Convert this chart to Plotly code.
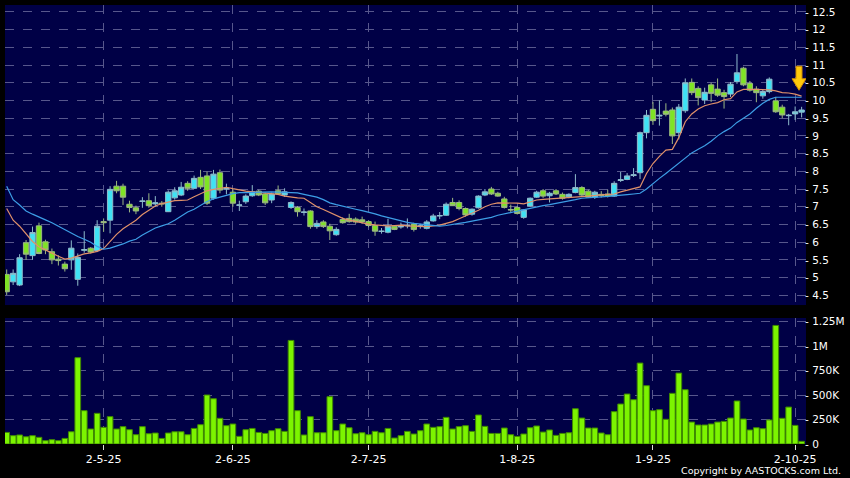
import plotly.graph_objects as go
from plotly.subplots import make_subplots

# daily candles (bar index 0 = first session shown)
opens = [5.09, 4.88, 4.79, 5.98, 5.62, 6.46, 6.01, 5.73, 5.52, 5.38,
         5.50, 4.95, 5.77, 5.83, 5.76, 6.58, 6.62, 7.58, 7.58, 7.07,
         6.97, 7.15, 7.17, 7.08, 7.10, 6.86, 7.25, 7.33, 7.66, 7.52,
         7.83, 7.87, 7.24, 7.96, 7.50, 7.41, 7.04, 7.14, 7.31, 7.44,
         7.36, 7.19, 7.45, 7.33, 6.98, 6.98, 6.84, 6.88, 6.44, 6.57,
         6.45, 6.21, 6.64, 6.67, 6.65, 6.63, 6.58, 6.47, 6.30, 6.28,
         6.45, 6.43, 6.46, 6.51, 6.44, 6.39, 6.60, 6.74, 6.76, 7.12,
         7.12, 6.95, 6.79, 6.97, 7.33, 7.50, 7.38, 7.22, 6.92, 6.98,
         6.70, 7.02, 7.27, 7.45, 7.31, 7.45, 7.35, 7.28, 7.40, 7.54,
         7.44, 7.27, 7.35, 7.36, 7.30, 7.74, 7.77, 7.88, 7.96, 9.09,
         9.75, 9.56, 9.70, 9.73, 9.09, 9.71, 10.51, 10.34, 10.01, 10.44,
         10.32, 10.22, 10.18, 10.53, 10.91, 10.48, 10.32, 10.13, 10.25, 9.99,
         9.81, 9.57, 9.62, 9.67]
highs = [5.23, 5.23, 5.66, 6.06, 6.44, 6.55, 6.07, 5.82, 5.63, 5.45,
         6.05, 5.68, 6.31, 5.86, 6.62, 6.67, 7.58, 7.73, 7.65, 7.17,
         7.03, 7.27, 7.38, 7.30, 7.16, 7.46, 7.55, 7.70, 7.72, 7.88,
         8.04, 7.99, 8.04, 8.05, 7.65, 7.50, 7.17, 7.35, 7.61, 7.48,
         7.40, 7.40, 7.60, 7.52, 7.15, 7.02, 6.95, 6.90, 6.62, 6.62,
         6.52, 6.42, 6.70, 6.80, 6.70, 6.72, 6.62, 6.58, 6.40, 6.66,
         6.48, 6.55, 6.67, 6.55, 6.52, 6.62, 6.80, 6.85, 7.12, 7.25,
         7.18, 6.98, 6.95, 7.32, 7.50, 7.56, 7.42, 7.28, 7.06, 7.02,
         6.93, 7.26, 7.45, 7.50, 7.42, 7.50, 7.40, 7.38, 7.92, 7.58,
         7.48, 7.45, 7.44, 7.48, 7.72, 7.98, 7.95, 8.09, 9.12, 9.73,
         9.96, 10.00, 9.92, 9.80, 9.90, 10.62, 10.62, 10.40, 10.36, 10.50,
         10.62, 10.30, 10.52, 11.31, 10.95, 10.55, 10.40, 10.30, 10.65, 10.10,
         9.88, 9.62, 9.83, 9.82]
lows = [4.51, 4.79, 4.76, 5.50, 5.50, 5.66, 5.66, 5.38, 5.34, 5.17,
        5.22, 4.77, 5.70, 5.68, 5.72, 6.29, 6.25, 7.38, 7.05, 6.84,
        6.79, 6.97, 6.97, 7.00, 7.00, 6.85, 7.20, 7.30, 7.45, 7.50,
        7.50, 7.05, 7.20, 7.38, 7.35, 7.00, 6.88, 7.08, 7.28, 7.30,
        7.05, 7.10, 7.33, 7.28, 6.94, 6.72, 6.75, 6.38, 6.38, 6.40,
        6.06, 6.18, 6.52, 6.55, 6.52, 6.52, 6.42, 6.18, 6.24, 6.25,
        6.34, 6.38, 6.39, 6.30, 6.38, 6.36, 6.58, 6.65, 6.74, 7.02,
        6.90, 6.72, 6.75, 6.95, 7.30, 7.33, 7.28, 6.95, 6.82, 6.78,
        6.66, 7.00, 7.25, 7.25, 7.12, 7.33, 7.20, 7.24, 7.38, 7.28,
        7.25, 7.22, 7.26, 7.26, 7.28, 7.70, 7.75, 7.84, 7.78, 8.93,
        9.31, 9.29, 9.55, 8.77, 8.90, 9.65, 10.15, 9.86, 9.90, 9.96,
        10.10, 9.77, 10.10, 10.47, 10.40, 10.25, 9.95, 10.05, 10.20, 9.65,
        9.50, 9.30, 9.45, 9.52]
closes = [4.60, 5.12, 5.56, 5.66, 6.27, 5.68, 5.78, 5.50, 5.48, 5.25,
          5.83, 5.57, 5.79, 5.72, 6.45, 6.55, 7.49, 7.45, 7.27, 6.98,
          6.88, 7.16, 7.03, 7.11, 7.08, 7.41, 7.45, 7.55, 7.52, 7.80,
          7.56, 7.10, 7.92, 7.47, 7.52, 7.10, 7.05, 7.30, 7.42, 7.33,
          7.11, 7.36, 7.36, 7.42, 7.12, 6.86, 6.85, 6.44, 6.53, 6.44,
          6.32, 6.36, 6.55, 6.58, 6.57, 6.57, 6.47, 6.31, 6.31, 6.44,
          6.36, 6.44, 6.47, 6.36, 6.46, 6.57, 6.74, 6.75, 7.07, 7.03,
          6.95, 6.77, 6.93, 7.30, 7.42, 7.36, 7.30, 6.98, 6.91, 6.81,
          6.91, 7.24, 7.41, 7.30, 7.38, 7.36, 7.24, 7.35, 7.54, 7.33,
          7.27, 7.41, 7.32, 7.30, 7.66, 7.76, 7.87, 7.90, 9.09, 9.58,
          9.43, 9.58, 9.61, 9.00, 9.81, 10.50, 10.22, 10.08, 10.23, 10.20,
          10.15, 10.11, 10.46, 10.78, 10.44, 10.29, 10.22, 10.25, 10.60, 9.68,
          9.59, 9.58, 9.68, 9.73]

# volume in thousands of shares
volume = [118, 85, 92, 74, 85, 68, 34, 44, 34, 57,
          125, 881, 340, 153, 313, 170, 279, 153, 177, 146,
          95, 177, 105, 112, 57, 112, 125, 125, 95, 159,
          197, 500, 462, 262, 187, 204, 78, 146, 159, 118,
          108, 136, 156, 129, 1057, 340, 92, 279, 115, 115,
          483, 136, 204, 166, 105, 115, 95, 129, 115, 159,
          61, 85, 129, 102, 136, 204, 170, 177, 272, 153,
          177, 187, 129, 296, 180, 108, 108, 163, 95, 78,
          102, 166, 184, 122, 143, 88, 108, 115, 360, 265,
          163, 163, 112, 95, 330, 408, 510, 452, 826, 595,
          340, 350, 252, 517, 724, 554, 224, 194, 194, 204,
          224, 231, 265, 439, 255, 143, 166, 156, 245, 1210,
          262, 377, 190, 27]

# moving averages as drawn (orange = short, blue = long)
ma_short = [6.95, 6.62, 6.45, 6.22, 6.02, 5.87, 5.79, 5.69, 5.60, 5.52,
            5.55, 5.61, 5.67, 5.70, 5.74, 5.82, 6.02, 6.22, 6.38, 6.50,
            6.62, 6.78, 6.90, 7.02, 7.09, 7.14, 7.17, 7.18, 7.19, 7.28,
            7.36, 7.45, 7.49, 7.53, 7.55, 7.51, 7.47, 7.44, 7.42, 7.40,
            7.38, 7.37, 7.35, 7.30, 7.27, 7.25, 7.24, 7.12, 7.00, 6.92,
            6.84, 6.74, 6.67, 6.62, 6.58, 6.55, 6.51, 6.49, 6.47, 6.46,
            6.47, 6.48, 6.46, 6.45, 6.44, 6.44, 6.46, 6.48, 6.53, 6.58,
            6.66, 6.74, 6.80, 6.90, 7.00, 7.07, 7.11, 7.11, 7.11, 7.10,
            7.08, 7.14, 7.19, 7.21, 7.22, 7.23, 7.24, 7.25, 7.27, 7.28,
            7.30, 7.32, 7.34, 7.35, 7.36, 7.42, 7.46, 7.50, 7.56, 7.94,
            8.22, 8.42, 8.60, 8.62, 8.95, 9.40, 9.62, 9.76, 9.85, 9.90,
            9.94, 10.02, 10.05, 10.24, 10.31, 10.31, 10.31, 10.30, 10.30, 10.27,
            10.22, 10.21, 10.18, 10.12]
ma_long = [7.58, 7.20, 7.05, 6.88, 6.79, 6.72, 6.63, 6.55, 6.45, 6.35,
           6.27, 6.16, 6.08, 6.00, 5.88, 5.80, 5.83, 5.88, 5.95, 6.03,
           6.08, 6.20, 6.30, 6.40, 6.46, 6.52, 6.62, 6.74, 6.85, 6.93,
           7.05, 7.15, 7.22, 7.28, 7.32, 7.37, 7.40, 7.40, 7.41, 7.42,
           7.43, 7.42, 7.41, 7.40, 7.40, 7.39, 7.35, 7.31, 7.27, 7.20,
           7.11, 7.06, 7.01, 6.97, 6.93, 6.89, 6.85, 6.80, 6.74, 6.69,
           6.64, 6.59, 6.56, 6.53, 6.51, 6.47, 6.45, 6.45, 6.47, 6.51,
           6.53, 6.56, 6.59, 6.62, 6.66, 6.70, 6.76, 6.80, 6.84, 6.88,
           6.92, 6.97, 7.00, 7.03, 7.06, 7.09, 7.12, 7.16, 7.20, 7.24,
           7.26, 7.27, 7.28, 7.29, 7.30, 7.32, 7.34, 7.36, 7.38, 7.50,
           7.66, 7.80, 7.94, 8.08, 8.22, 8.38, 8.52, 8.62, 8.72, 8.85,
           9.00, 9.12, 9.22, 9.38, 9.50, 9.62, 9.78, 9.92, 10.03, 10.09,
           10.09, 10.09, 10.09, 10.09]

# month ticks (bar index of the first session of each month)
tick_pos = [15, 35, 56, 79, 100, 122]
tick_text = ["2-5-25", "2-6-25", "2-7-25", "1-8-25", "1-9-25", "2-10-25"]

price_ticks = [4.5, 5, 5.5, 6, 6.5, 7, 7.5, 8, 8.5, 9, 9.5, 10, 10.5, 11, 11.5, 12, 12.5]
vol_ticks = [0, 250, 500, 750, 1000, 1250]
vol_tick_text = ["0", "250K", "500K", "750K", "1M", "1.25M"]

n = len(closes)
assert n == len(opens) == len(highs) == len(lows) == len(volume) == len(ma_short) == len(ma_long)
idx = list(range(n))

FONT = "DejaVu Sans"
GRID = "#57578c"
UP = "#3fe2f4"
DOWN = "#7fe424"

fig = make_subplots(rows=2, cols=1, shared_xaxes=True, vertical_spacing=0.0295,
                    row_heights=[0.6834, 0.287])

fig.add_trace(go.Candlestick(
    x=idx, open=opens, high=highs, low=lows, close=closes,
    increasing=dict(fillcolor=UP, line=dict(color="#8fbccc", width=1)),
    decreasing=dict(fillcolor=DOWN, line=dict(color="#9cb882", width=1)),
    whiskerwidth=0, showlegend=False, hoverinfo="skip"), row=1, col=1)

fig.add_trace(go.Scatter(x=idx, y=ma_short, mode="lines",
                         line=dict(color="#e0916a", width=1.2),
                         showlegend=False, hoverinfo="skip"), row=1, col=1)
fig.add_trace(go.Scatter(x=idx, y=ma_long, mode="lines",
                         line=dict(color="#3d9ee6", width=1.2),
                         showlegend=False, hoverinfo="skip"), row=1, col=1)

fig.add_trace(go.Bar(x=idx, y=volume,
                     marker=dict(color="#7cf400", line=dict(color="#3f8a00", width=1)),
                     showlegend=False, hoverinfo="skip"), row=2, col=1)

# yellow arrow marking the latest session
fig.add_shape(type="path", xref="x", yref="y",
              xsizemode="pixel", ysizemode="pixel",
              xanchor=idx[-1], yanchor=ma_long[-1],
              path="M -2.6,7 L -9.6,18.5 L -5.6,18.5 L -5.6,31 L 0.4,31 L 0.4,18.5 L 4.4,18.5 Z",
              fillcolor="#ffc90a", line=dict(color="#cf8c00", width=1))

fig.add_annotation(text="Copyright by AASTOCKS.com Ltd.", xref="paper", yref="paper",
                   x=1.046, y=-0.061, xanchor="right", yanchor="middle", showarrow=False,
                   font=dict(family=FONT, size=9.5, color="#ffffff"))

xcommon = dict(range=[-0.26, n - 0.32], tickmode="array", tickvals=tick_pos,
               showgrid=True, gridcolor=GRID, griddash="dash", gridwidth=1,
               zeroline=False, showline=False, automargin=False,
               rangeslider=dict(visible=False))
fig.update_xaxes(**xcommon)
fig.update_xaxes(showticklabels=False, ticks="", row=1, col=1)
fig.update_xaxes(ticktext=tick_text, ticks="outside", ticklen=5, tickcolor="#dddddd",
                 tickfont=dict(family=FONT, size=11, color="#ffffff"), row=2, col=1)

ycommon = dict(side="right", tickmode="array", showgrid=True, gridcolor=GRID,
               griddash="dash", zeroline=False, automargin=False, ticks="",
               ticklabelstandoff=-2,
               tickfont=dict(family=FONT, size=10.5, color="#ffffff"))
fig.update_yaxes(range=[4.225, 12.694], tickvals=price_ticks,
                 ticktext=["- %g" % v for v in price_ticks], row=1, col=1, **ycommon)
fig.update_yaxes(range=[0, 1286], tickvals=vol_ticks,
                 ticktext=["- " + t for t in vol_tick_text], row=2, col=1, **ycommon)

fig.update_layout(
    width=850, height=478,
    margin=dict(l=5, r=44, t=5, b=34, autoexpand=False),
    paper_bgcolor="#000000",
    plot_bgcolor="#000046",
    bargap=0.12,
    boxgap=0.18,
    boxgroupgap=0,
    font=dict(family=FONT, color="#ffffff"),
)

# page has a default body margin; drop it so the figure sits at the window origin
fig.write_html("out.html",
               config={"displayModeBar": False},
               post_script="document.body.style.margin='0';"
                           "document.body.style.background='#000';")
